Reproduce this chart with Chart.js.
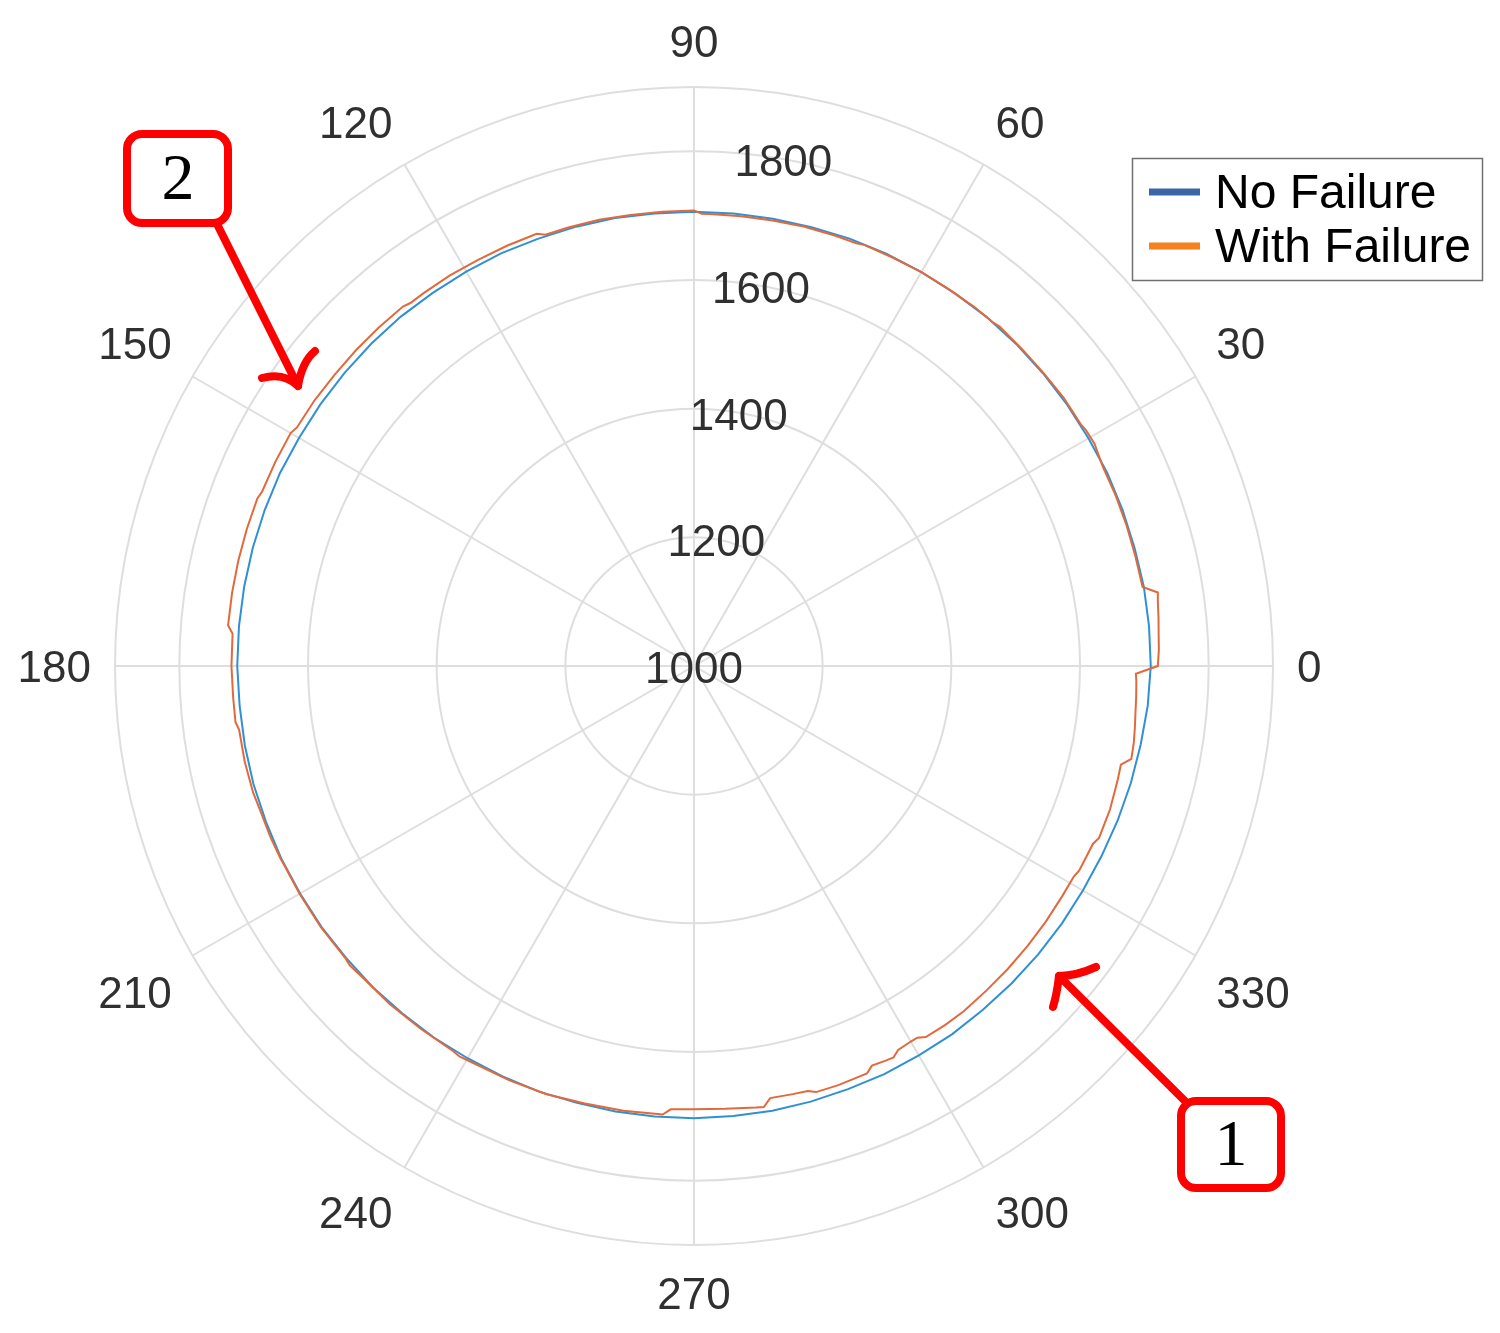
<!DOCTYPE html>
<html>
<head>
<meta charset="utf-8">
<script src="https://cdn.jsdelivr.net/npm/chart.js@4.4.0/dist/chart.umd.min.js"></script>
<style>
  html, body { margin: 0; padding: 0; background: #fff; }
  #wrap { width: 1500px; height: 1333px; position: relative; }
</style>
</head>
<body>
<div id="wrap"><canvas id="graficoPolar"></canvas></div>
<script>
// radial ticks (outer ring at 1900) and the labels written along 80 deg
const rTicks = [1000, 1200, 1400, 1600, 1800, 1900];
const tickLabels = [1000, 1200, 1400, 1600, 1800];
const angleLabels = [0, 30, 60, 90, 120, 150, 180, 210, 240, 270, 300, 330];
const seriesNames = ['No Failure', 'With Failure'];

// angles in degrees, 0 at the right, counter-clockwise
const blueAngles = [
    0, 5, 10, 15, 20, 25, 30, 35, 40, 45, 50, 55, 60, 65, 70, 75, 80, 85,
    90, 95, 100, 105, 110, 115, 120, 125, 130, 135, 140, 145, 150, 155, 160, 165, 170, 175,
    180, 185, 190, 195, 200, 205, 210, 215, 220, 225, 230, 235, 240, 245, 250, 255, 260, 265,
    270, 275, 280, 285, 290, 295, 300, 305, 310, 315, 320, 325, 330, 335, 340, 345, 350, 355
];
const blueValues = [
    1710, 1710, 1710, 1709, 1709, 1709, 1708, 1708, 1708, 1708, 1708, 1707, 1707, 1707, 1707, 1706, 1706, 1706,
    1706, 1706, 1707, 1707, 1707, 1708, 1708, 1708, 1709, 1709, 1709, 1709, 1709, 1710, 1710, 1710, 1710, 1710,
    1710, 1709, 1709, 1709, 1708, 1708, 1707, 1707, 1706, 1706, 1705, 1705, 1704, 1704, 1704, 1703, 1703, 1703,
    1703, 1702, 1702, 1701, 1700, 1700, 1699, 1699, 1698, 1698, 1698, 1698, 1698, 1699, 1701, 1703, 1705, 1708
];

const orangeAngles = [
    0, 2, 4, 6, 8, 9, 10, 14, 18, 22, 26, 28, 29, 31, 32, 36, 40, 44, 48, 49,
    52, 56, 60, 64, 68, 69, 72, 76, 80, 84, 88, 89, 90, 94, 98, 102, 106, 109, 110, 114,
    118, 122, 126, 128, 129, 133, 137, 141, 145, 149, 150, 154, 158, 159, 163, 167, 171, 175, 176, 180,
    184, 187, 188, 192, 196, 198, 202, 205, 206, 210, 215, 220, 221, 223, 228, 233, 238, 239, 241, 246,
    251, 256, 261, 266, 267, 270, 274, 278, 279, 280, 283, 285, 286, 289, 292, 293, 294, 296, 297, 298,
    300, 301, 302, 305, 308, 312, 316, 320, 324, 328, 331, 332, 336, 337, 341, 345, 347, 348, 350, 352,
    354, 356, 358, 359
];
const orangeValues = [
    1721, 1723, 1724, 1726, 1728, 1730, 1708, 1707, 1707, 1707, 1707, 1710, 1712, 1711, 1709, 1710, 1709, 1709, 1710, 1708,
    1708, 1707, 1707, 1706, 1706, 1704, 1704, 1704, 1703, 1703, 1703, 1703, 1708, 1708, 1708, 1709, 1709, 1709, 1715, 1715,
    1715, 1716, 1716, 1716, 1719, 1719, 1719, 1719, 1720, 1720, 1724, 1724, 1724, 1727, 1727, 1727, 1727, 1727, 1719, 1719,
    1718, 1718, 1714, 1714, 1713, 1711, 1710, 1709, 1708, 1708, 1708, 1707, 1709, 1707, 1707, 1706, 1706, 1708, 1706, 1705,
    1704, 1701, 1700, 1699, 1690, 1689, 1690, 1693, 1694, 1682, 1683, 1684, 1689, 1689, 1688, 1688, 1680, 1682, 1683, 1676,
    1674, 1674, 1680, 1681, 1681, 1679, 1678, 1677, 1676, 1675, 1675, 1678, 1679, 1684, 1684, 1682, 1681, 1695, 1694, 1692,
    1690, 1689, 1688, 1687
];

const lineColors = ['#3090d4', '#e2693b'];
const legendColors = ['#3a66a8', '#f7801e'];
const gridColor = '#dedede';
const textColor = '#303030';
const labelFont = '"Liberation Sans", Arial, sans-serif';

// one radar spoke per degree, going clockwise from the right => label = -i
const degrees = Array.from({length: 360}, (_, i) => (360 - i) % 360);

function toSpokes(angles, values) {
    const out = new Array(360).fill(null);
    angles.forEach((a, k) => { out[(360 - a) % 360] = values[k]; });
    return out;
}

// theta labels (outside the rim) and r labels (along 80 deg)
const polarLabels = {
    id: 'polarLabels',
    afterDatasetsDraw(chart) {
        const r = chart.scales.r;
        const ctx = chart.ctx;
        ctx.save();
        ctx.font = '44px ' + labelFont;
        ctx.fillStyle = textColor;
        ctx.textBaseline = 'middle';

        ctx.textAlign = 'center';
        const idx80 = degrees.indexOf(80);
        tickLabels.forEach(v => {
            const p = r.getPointPositionForValue(idx80, v);
            ctx.fillText(String(v), p.x, p.y + 5);
        });

        angleLabels.forEach(a => {
            const rad = a * Math.PI / 180;
            const c = Math.cos(rad);
            const s = Math.sin(rad);
            const p = r.getPointPosition(degrees.indexOf(a), r.drawingArea + 24);
            ctx.textAlign = c > 0.01 ? 'left' : (c < -0.01 ? 'right' : 'center');
            let dy = 1;
            if (s > 0.01) dy = -21;
            if (s < -0.01) dy = 25;
            ctx.fillText(String(a), p.x, p.y + dy + 3);
        });
        ctx.restore();
    }
};

const legendBox = {
    id: 'legendBox',
    afterDraw(chart) {
        const ctx = chart.ctx;
        ctx.save();
        ctx.fillStyle = '#fff';
        ctx.fillRect(1132, 158, 351, 123);
        ctx.strokeStyle = '#707070';
        ctx.lineWidth = 1.5;
        ctx.strokeRect(1132.5, 158.5, 350, 122);
        seriesNames.forEach((name, k) => {
            const y = 192 + k * 54;
            ctx.strokeStyle = legendColors[k];
            ctx.lineWidth = 7;
            ctx.beginPath();
            ctx.moveTo(1149, y);
            ctx.lineTo(1200, y);
            ctx.stroke();
            ctx.fillStyle = '#000';
            ctx.font = '48px ' + labelFont;
            ctx.textAlign = 'left';
            ctx.textBaseline = 'middle';
            ctx.fillText(name, 1215, y + 3);
        });
        ctx.restore();
    }
};

function roundBox(ctx, x, y, w, h, rad) {
    ctx.beginPath();
    ctx.moveTo(x + rad, y);
    ctx.arcTo(x + w, y, x + w, y + h, rad);
    ctx.arcTo(x + w, y + h, x, y + h, rad);
    ctx.arcTo(x, y + h, x, y, rad);
    ctx.arcTo(x, y, x + w, y, rad);
    ctx.closePath();
}

// red callouts "1" and "2"
const callouts = {
    id: 'callouts',
    afterDraw(chart) {
        const ctx = chart.ctx;
        ctx.save();
        ctx.strokeStyle = '#ff0000';
        ctx.lineWidth = 8;
        ctx.lineCap = 'round';
        ctx.lineJoin = 'round';

        // arrow 2
        ctx.beginPath();
        ctx.moveTo(214, 218);
        ctx.lineTo(298, 386);
        ctx.stroke();
        ctx.beginPath();
        ctx.moveTo(262, 378);
        ctx.quadraticCurveTo(284, 372, 298, 386);
        ctx.quadraticCurveTo(302, 362, 315, 351);
        ctx.stroke();

        // arrow 1
        ctx.beginPath();
        ctx.moveTo(1193, 1109);
        ctx.lineTo(1059, 976);
        ctx.stroke();
        ctx.beginPath();
        ctx.moveTo(1096, 967);
        ctx.quadraticCurveTo(1076, 976, 1059, 976);
        ctx.quadraticCurveTo(1057, 994, 1053, 1007);
        ctx.stroke();

        // boxes
        ctx.fillStyle = '#fff';
        roundBox(ctx, 127, 134, 101, 89, 15);
        ctx.fill();
        ctx.stroke();
        roundBox(ctx, 1181, 1101, 100, 87, 15);
        ctx.fill();
        ctx.stroke();

        ctx.fillStyle = '#000';
        ctx.font = '66px "Liberation Serif", "DejaVu Serif", serif';
        ctx.textAlign = 'center';
        ctx.textBaseline = 'middle';
        ctx.fillText('2', 178, 182);
        ctx.fillText('1', 1231, 1148);
        ctx.restore();
    }
};

const ctx1 = document.getElementById('graficoPolar');

new Chart(ctx1, {
    type: 'radar',
    data: {
        labels: degrees,
        datasets: [
            {
                label: seriesNames[0],
                data: toSpokes(blueAngles, blueValues),
                borderColor: lineColors[0],
                borderWidth: 2,
                fill: false,
                spanGaps: true,
                pointRadius: 0,
                order: 1
            },
            {
                label: seriesNames[1],
                data: toSpokes(orangeAngles, orangeValues),
                borderColor: lineColors[1],
                borderWidth: 2,
                fill: false,
                spanGaps: true,
                pointRadius: 0,
                order: 0
            }
        ]
    },
    options: {
        responsive: true,
        maintainAspectRatio: false,
        animation: false,
        devicePixelRatio: 1,
        events: [],
        layout: {
            padding: { left: 0, right: 112, top: 87, bottom: 88 }
        },
        plugins: {
            legend: { display: false },
            tooltip: { enabled: false }
        },
        scales: {
            r: {
                min: 1000,
                max: 1900,
                startAngle: 90,
                afterBuildTicks: (scale) => {
                    scale.ticks = rTicks.map(v => ({ value: v }));
                },
                ticks: { display: false },
                grid: { circular: true, color: gridColor, lineWidth: 2 },
                angleLines: {
                    color: gridColor,
                    lineWidth: (c) => (c.index % 30 === 0 ? 2 : 0)
                },
                pointLabels: { display: false }
            }
        }
    },
    plugins: [polarLabels, legendBox, callouts]
});
</script>
</body>
</html>
